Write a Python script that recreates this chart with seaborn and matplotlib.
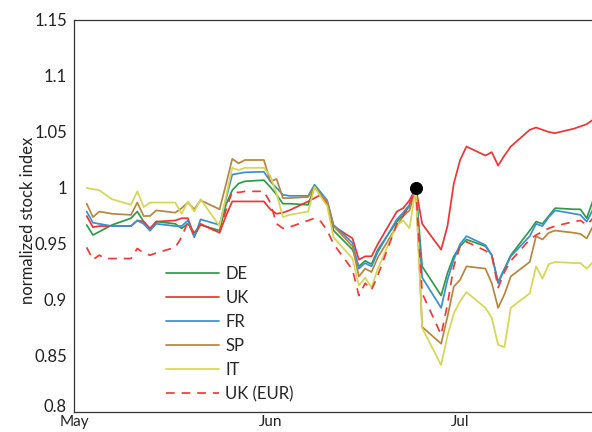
import numpy as np
import pandas as pd
import matplotlib
matplotlib.use("Agg")
import matplotlib.pyplot as plt
import matplotlib.transforms as mtransforms
from matplotlib.ticker import FuncFormatter
import seaborn as sns

# ─────────────────────────────────────────────────────────────
#  Data (normalized stock index)
# ─────────────────────────────────────────────────────────────

# trading days May 2 - Jul 21 2016, drawn one day after the close
dates = pd.bdate_range("2016-05-02", "2016-07-21") + pd.Timedelta(days=1)

DE = [0.967, 0.958, 0.961, 0.964, 0.967,
      0.973, 0.979, 0.970, 0.962, 0.970,
      0.968, 0.964, 0.968, 0.960, 0.967,
      0.962, 0.985, 0.998, 1.004, 1.006,
      1.007, 1.001, 0.994, 0.986, 0.986,
      0.985, 1.001, 0.993, 0.986, 0.962,
      0.945, 0.930, 0.935, 0.932, 0.945,
      0.970, 0.976, 0.984, 1.000, 0.930,
      0.904, 0.924, 0.939, 0.948, 0.954,
      0.948, 0.940, 0.916, 0.928, 0.940,
      0.962, 0.970, 0.968, 0.975, 0.982,
      0.981, 0.981, 0.973, 0.989]

UK = [0.975, 0.965, 0.966, 0.966, 0.966,
      0.966, 0.971, 0.970, 0.964, 0.970,
      0.971, 0.973, 0.973, 0.957, 0.968,
      0.960, 0.975, 0.988, 0.988, 0.988,
      0.988, 0.981, 0.977, 0.978, 0.980,
      0.988, 0.991, 0.994, 0.986, 0.966,
      0.955, 0.936, 0.939, 0.939, 0.950,
      0.979, 0.982, 0.989, 1.000, 0.968,
      0.945, 0.966, 1.004, 1.025, 1.037,
      1.029, 1.032, 1.020, 1.029, 1.037,
      1.052, 1.054, 1.052, 1.050, 1.049,
      1.053, 1.055, 1.057, 1.061]

FR = [0.979, 0.969, 0.968, 0.967, 0.966,
      0.966, 0.971, 0.968, 0.962, 0.968,
      0.966, 0.966, 0.971, 0.956, 0.972,
      0.967, 0.990, 1.012, 1.013, 1.014,
      1.0145, 1.006, 1.000, 0.994, 0.993,
      0.993, 1.003, 0.996, 0.989, 0.967,
      0.951, 0.928, 0.933, 0.930, 0.943,
      0.972, 0.978, 0.985, 1.000, 0.920,
      0.893, 0.918, 0.936, 0.950, 0.957,
      0.949, 0.940, 0.915, 0.927, 0.939,
      0.957, 0.968, 0.966, 0.974, 0.980,
      0.977, 0.976, 0.970, 0.981]

SP = [0.986, 0.974, 0.979, 0.978, 0.977,
      0.976, 0.987, 0.975, 0.975, 0.980,
      0.978, 0.982, 0.987, 0.981, 0.989,
      0.981, 1.003, 1.026, 1.022, 1.025,
      1.025, 1.006, 1.008, 0.991, 0.991,
      0.992, 1.001, 0.994, 0.988, 0.966,
      0.948, 0.921, 0.928, 0.925, 0.938,
      0.966, 0.975, 0.980, 1.000, 0.876,
      0.861, 0.885, 0.912, 0.918, 0.930,
      0.928, 0.915, 0.893, 0.905, 0.921,
      0.934, 0.957, 0.954, 0.960, 0.962,
      0.960, 0.959, 0.955, 0.966]

IT = [1.000, 0.999, 0.998, 0.994, 0.990,
      0.985, 0.997, 0.983, 0.987, 0.987,
      0.987, 0.977, 0.988, 0.979, 0.990,
      0.966, 0.992, 1.018, 1.016, 1.018,
      1.018, 1.011, 0.995, 0.974, 0.976,
      0.979, 1.001, 0.992, 0.984, 0.956,
      0.937, 0.913, 0.920, 0.911, 0.928,
      0.967, 0.971, 0.964, 1.000, 0.875,
      0.842, 0.868, 0.888, 0.899, 0.907,
      0.893, 0.884, 0.860, 0.858, 0.893,
      0.906, 0.930, 0.919, 0.932, 0.934,
      0.933, 0.933, 0.928, 0.934]

UK_EUR = [0.947, 0.936, 0.940, 0.937, 0.937,
          0.937, 0.946, 0.942, 0.940, 0.942,
          0.947, 0.956, 0.970, 0.957, 0.968,
          0.960, 0.980, 0.997, 0.996, 0.997,
          0.997, 0.987, 0.968, 0.964, 0.965,
          0.971, 0.973, 0.970, 0.962, 0.950,
          0.927, 0.904, 0.915, 0.909, 0.922,
          0.968, 0.975, 0.985, 1.000, 0.906,
          0.869, 0.896, 0.930, 0.948, 0.952,
          0.944, 0.940, 0.911, 0.925, 0.935,
          0.954, 0.958, 0.961, 0.964, 0.966,
          0.970, 0.971, 0.967, 0.973]

series_names = ["DE", "UK", "FR", "SP", "IT", "UK (EUR)"]
series_values = [DE, UK, FR, SP, IT, UK_EUR]

# normalization day (the black dot)
ref_date = pd.Timestamp("2016-06-24")
ref_value = 1.0

y_ticks = [0.8, 0.85, 0.9, 0.95, 1.0, 1.05, 1.1, 1.15]
month_ticks = pd.to_datetime(["2016-05-01", "2016-06-01", "2016-07-01"])
month_labels = ["May", "Jun", "Jul"]

colors = {
    "DE": "#2f9b48",
    "UK": "#ee3434",
    "FR": "#3b8fd3",
    "SP": "#b7853d",
    "IT": "#d6d655",
    "UK (EUR)": "#ee3a3a",
}
dashes = {name: "" for name in series_names}
dashes["UK (EUR)"] = (5, 4)

df = pd.concat(
    [pd.DataFrame({"date": dates, "value": vals, "series": name})
     for name, vals in zip(series_names, series_values)],
    ignore_index=True,
)

# ─────────────────────────────────────────────────────────────
#  Plot
# ─────────────────────────────────────────────────────────────

sns.set_theme(style="white")
plt.rcParams["font.family"] = ["Lato", "DejaVu Sans"]

fig = plt.figure(figsize=(5.92, 4.32), dpi=100)
ax = fig.add_axes([74 / 592, 20 / 432, 530 / 592, 392 / 432])

sns.lineplot(
    data=df, x="date", y="value", hue="series", style="series",
    hue_order=series_names, style_order=series_names,
    palette=colors, dashes=dashes, linewidth=1.25, ax=ax,
)
sns.scatterplot(x=[ref_date], y=[ref_value], color="black", s=75,
                edgecolor="black", zorder=5, ax=ax, legend=False)

ax.set_ylim(0.8, 1.15)
ax.set_xlim(pd.Timestamp("2016-05-01"),
            pd.Timestamp("2016-05-01") + pd.Timedelta(days=530 / 6.33))
ax.set_yticks(y_ticks)
ax.yaxis.set_major_formatter(FuncFormatter(lambda v, _: f"{v:g}"))
ax.set_xticks(month_ticks)
ax.set_xticklabels(month_labels)
ax.tick_params(direction="in", length=4, width=0.8, colors="#333333",
               labelcolor="#222222", labelsize=12)
ax.tick_params(axis="y", pad=5)
ax.tick_params(axis="x", pad=2.5, labelsize=11)
ax.set_xlabel("")
ax.set_ylabel("normalized stock index", fontsize=12, color="#222222")
ax.yaxis.set_label_coords(-0.072, 0.49)

# lift the bottom "0.8" label a little so it clears "May"
lift = mtransforms.ScaledTranslation(0, 5 / 72, fig.dpi_scale_trans)
bottom_label = ax.yaxis.get_major_ticks()[0].label1
bottom_label.set_transform(bottom_label.get_transform() + lift)

for side in ["left", "bottom", "top", "right"]:
    ax.spines[side].set_color("#333333")
    ax.spines[side].set_linewidth(0.9)

handles, labels = ax.get_legend_handles_labels()
ax.legend(handles, labels, loc="upper left",
          bbox_to_anchor=(166 / 592, 1 - 266 / 432), bbox_transform=fig.transFigure,
          frameon=False, fontsize=12, handlelength=3.2, handletextpad=0.35,
          labelspacing=0.48, borderaxespad=0, borderpad=0)

fig.savefig("out.png", dpi=100)
